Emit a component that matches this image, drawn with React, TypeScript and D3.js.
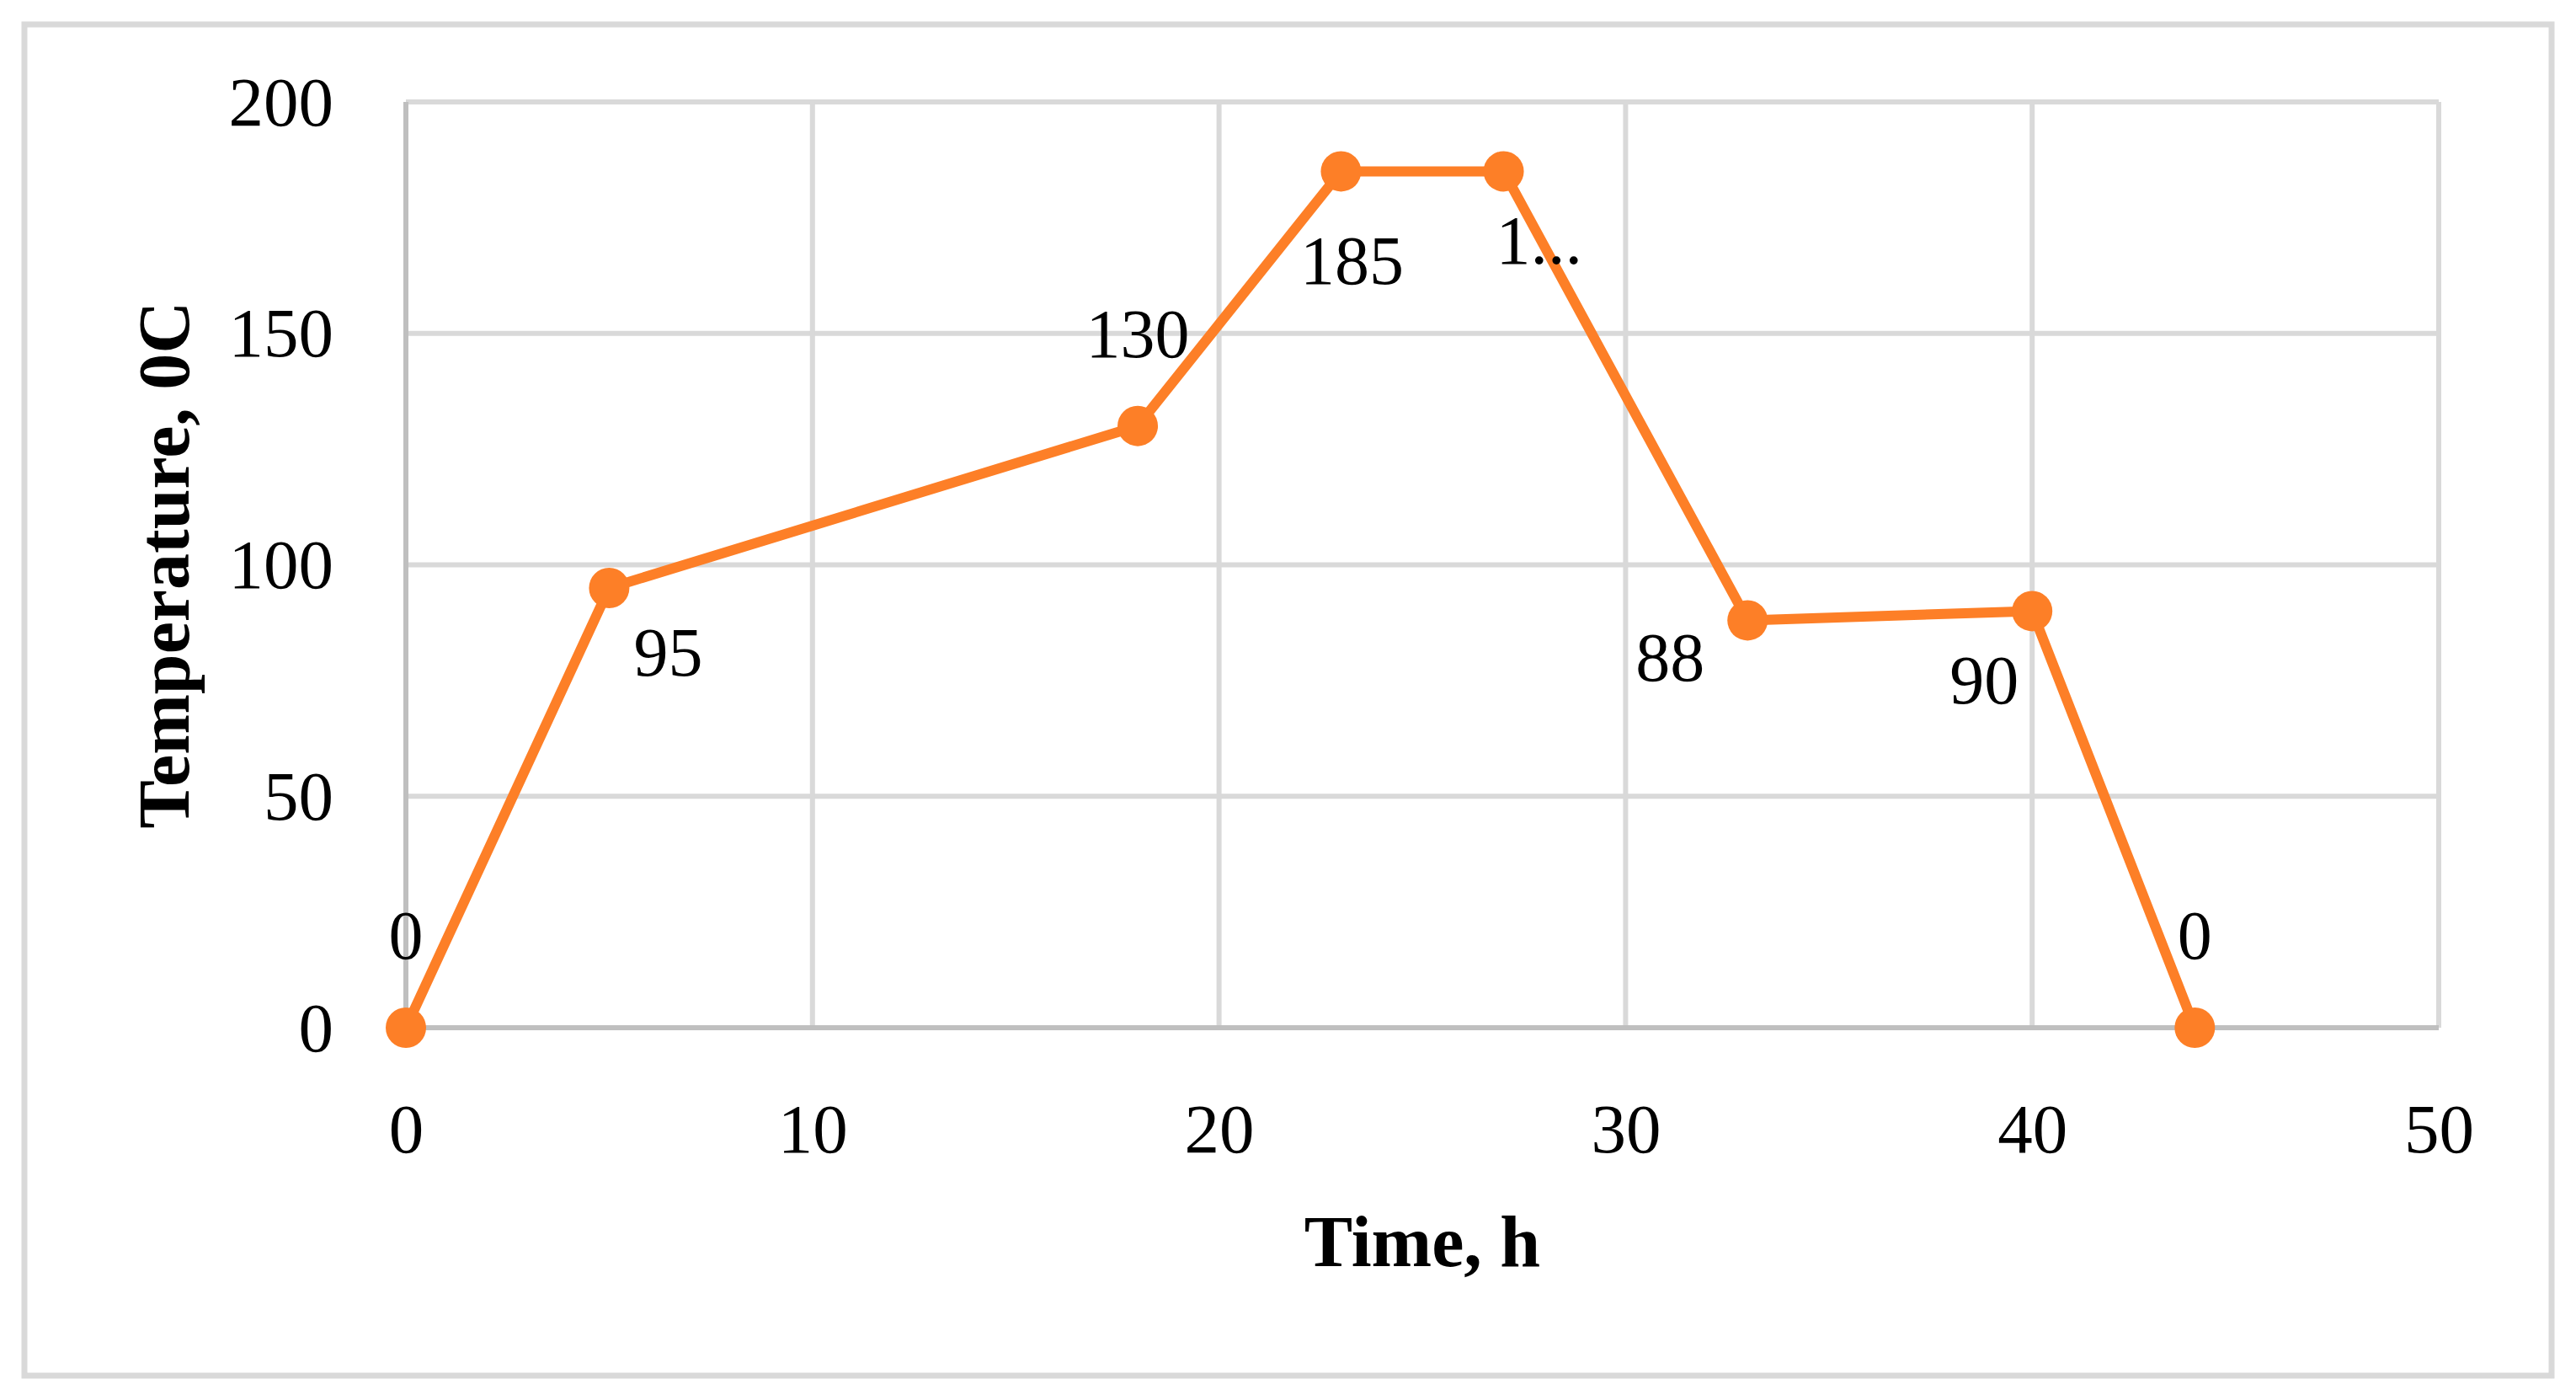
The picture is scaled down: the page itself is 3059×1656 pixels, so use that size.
import * as d3 from "d3";
import { useEffect, useRef } from "react";

// series
const times = [0, 5, 18, 23, 27, 33, 40, 44];
const temps = [0, 95, 130, 185, 185, 88, 90, 0];
const pointLabels = ["0", "95", "130", "185", "1...", "88", "90", "0"];

const xTicks = [0, 10, 20, 30, 40, 50];
const yTicks = [0, 50, 100, 150, 200];

// where each data label sits relative to its point (anchor, dx, dy)
const labelPlacement: [string, number, number][] = [
    ["middle", 0, -82],
    ["start", 29, 104],
    ["middle", 0, -82],
    ["middle", 13, 134],
    ["start", -9, 110],
    ["end", -51, 72],
    ["end", -16, 110],
    ["middle", 0, -82],
];

export default function App() {
    const ref = useRef<SVGSVGElement>(null);

    useEffect(() => {
        document.body.style.margin = "0";
        const svg = d3.select(ref.current);
        svg.selectAll("*").remove();

        const width = 3059;
        const height = 1656;
        const margin = { top: 121, right: 163, bottom: 436, left: 482 };
        const font = "'Liberation Serif', 'Times New Roman', serif";
        const orange = "#fd7f27";

        svg.attr("width", width).attr("height", height);

        // outer frame
        svg.append("rect")
            .attr("x", 29)
            .attr("y", 29)
            .attr("width", 3001)
            .attr("height", 1604)
            .attr("fill", "white")
            .attr("stroke", "#d9d9d9")
            .attr("stroke-width", 7);

        const x = d3.scaleLinear()
            .domain([0, 50])
            .range([margin.left, width - margin.right]);

        const y = d3.scaleLinear()
            .domain([0, 200])
            .range([height - margin.bottom, margin.top]);

        // grid
        const grid = svg.append("g").attr("stroke", "#d9d9d9").attr("stroke-width", 6);
        grid.selectAll("line.h")
            .data(yTicks.filter(d => d > 0))
            .join("line")
            .attr("class", "h")
            .attr("x1", x(0))
            .attr("x2", x(50))
            .attr("y1", d => y(d))
            .attr("y2", d => y(d));
        grid.selectAll("line.v")
            .data(xTicks.filter(d => d > 0))
            .join("line")
            .attr("class", "v")
            .attr("x1", d => x(d))
            .attr("x2", d => x(d))
            .attr("y1", y(0))
            .attr("y2", y(200));

        // axis lines
        svg.append("line")
            .attr("x1", x(0)).attr("x2", x(0))
            .attr("y1", y(0) + 3).attr("y2", y(200))
            .attr("stroke", "#bfbfbf").attr("stroke-width", 6);
        svg.append("line")
            .attr("x1", x(0)).attr("x2", x(50))
            .attr("y1", y(0)).attr("y2", y(0))
            .attr("stroke", "#bfbfbf").attr("stroke-width", 6);

        // tick labels via d3 axes
        const xAxis = svg.append("g")
            .attr("transform", `translate(0,${y(0)})`)
            .call(d3.axisBottom(x).tickValues(xTicks).tickSize(0).tickPadding(0));
        xAxis.select(".domain").remove();
        xAxis.selectAll("text")
            .attr("y", 148)
            .attr("dy", null)
            .attr("fill", "#000")
            .style("font-family", font)
            .style("font-size", "83px");

        const yAxis = svg.append("g")
            .attr("transform", `translate(${x(0)},0)`)
            .call(d3.axisLeft(y).tickValues(yTicks).tickSize(0).tickPadding(0));
        yAxis.select(".domain").remove();
        yAxis.selectAll("text")
            .attr("x", -86)
            .attr("dy", null)
            .attr("y", 27)
            .attr("fill", "#000")
            .style("font-family", font)
            .style("font-size", "83px");

        // series line
        const pts = times.map((t, i) => [t, temps[i]] as [number, number]);
        const line = d3.line<[number, number]>()
            .x(d => x(d[0]))
            .y(d => y(d[1]));

        svg.append("path")
            .datum(pts)
            .attr("d", line)
            .attr("fill", "none")
            .attr("stroke", orange)
            .attr("stroke-width", 12)
            .attr("stroke-linejoin", "round");

        svg.append("g")
            .selectAll("circle")
            .data(pts)
            .join("circle")
            .attr("cx", d => x(d[0]))
            .attr("cy", d => y(d[1]))
            .attr("r", 24)
            .attr("fill", orange);

        // data labels
        svg.append("g")
            .selectAll("text")
            .data(pts)
            .join("text")
            .attr("x", (d, i) => x(d[0]) + labelPlacement[i][1])
            .attr("y", (d, i) => y(d[1]) + labelPlacement[i][2])
            .attr("text-anchor", (d, i) => labelPlacement[i][0])
            .style("font-family", font)
            .style("font-size", "82px")
            .attr("fill", "#000")
            .text((d, i) => pointLabels[i]);

        // axis titles
        svg.append("text")
            .attr("x", (x(0) + x(50)) / 2)
            .attr("y", 1503)
            .attr("text-anchor", "middle")
            .style("font-family", font)
            .style("font-size", "86px")
            .style("font-weight", "bold")
            .text("Time, h");

        svg.append("text")
            .attr("transform", `translate(224,${(y(0) + y(200)) / 2}) rotate(-90)`)
            .attr("text-anchor", "middle")
            .style("font-family", font)
            .style("font-size", "86px")
            .style("font-weight", "bold")
            .text("Temperature, 0C");
    }, []);

    return <svg ref={ref}></svg>;
}
